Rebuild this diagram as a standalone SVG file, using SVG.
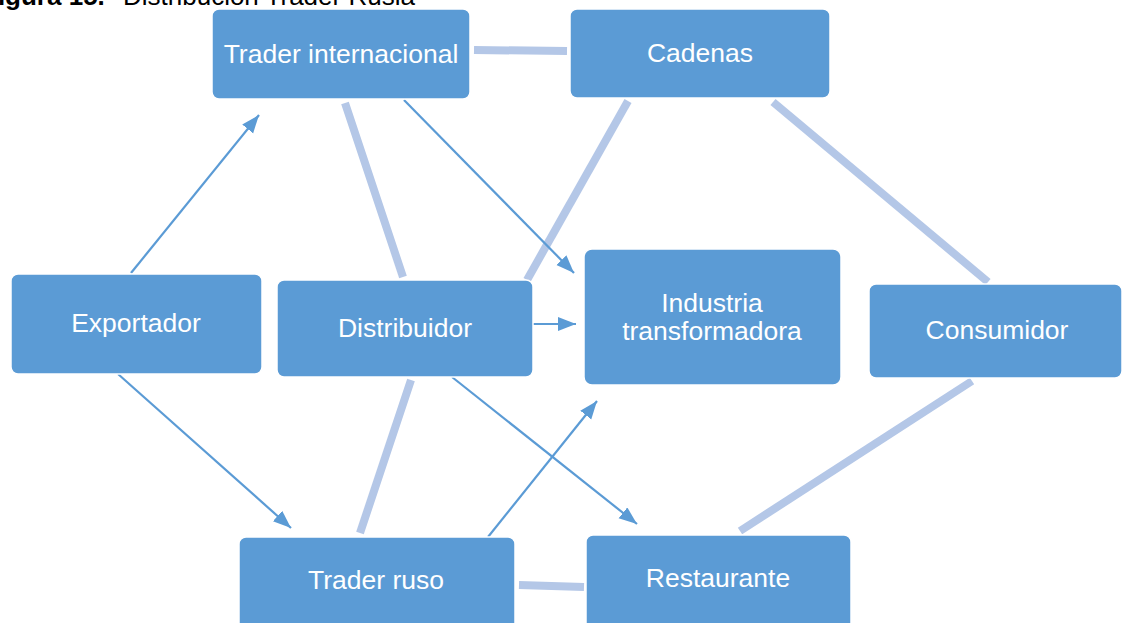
<svg xmlns="http://www.w3.org/2000/svg" width="1123" height="623" viewBox="0 0 1123 623">
<defs>
<style>
.node rect{fill:#5b9bd5;stroke:#ffffff;stroke-width:1.5}
.node text{fill:#ffffff;font-family:"Liberation Sans",Arial,sans-serif;font-size:26.5px;text-anchor:middle}
.link{stroke:#b4c7e7;stroke-width:8;fill:none}
.arrow{stroke:#5b9bd5;stroke-width:2.2;fill:none;marker-end:url(#ah)}
.cap{font-family:"Liberation Sans",Arial,sans-serif;font-size:26px;fill:#000}
</style>
<marker id="ah" markerUnits="userSpaceOnUse" markerWidth="20" markerHeight="16" refX="18" refY="7" orient="auto">
<path d="M0,0 L18,7 L0,14 z" fill="#5b9bd5"/>
</marker>
</defs>
<rect width="1123" height="623" fill="#ffffff"/>
<g id="caption">
<text class="cap" x="-18" y="5" font-weight="bold">Figura 15.</text>
<text class="cap" x="123" y="5">Distribución Trader Rusia</text>
</g>
<g id="connectors">
<line class="link" x1="474" y1="50" x2="567" y2="51"/>
<line class="link" x1="345" y1="103" x2="403" y2="277"/>
<line class="link" x1="628" y1="101" x2="527" y2="280"/>
<line class="link" x1="773" y1="102" x2="988" y2="282"/>
<line class="link" x1="411" y1="380" x2="360" y2="533"/>
<line class="link" x1="972" y1="381" x2="740" y2="531"/>
<line class="link" x1="519" y1="585" x2="584" y2="587"/>
<line class="arrow" x1="131" y1="273" x2="259" y2="115"/>
<line class="arrow" x1="118" y1="374" x2="291" y2="528"/>
<line class="arrow" x1="404" y1="100" x2="574" y2="273"/>
<line class="arrow" x1="533" y1="324" x2="576" y2="324"/>
<line class="arrow" x1="452" y1="377" x2="637" y2="524"/>
<line class="arrow" x1="488" y1="537" x2="597" y2="401"/>
</g>
<g id="trader-internacional" class="node"><rect x="212" y="9" width="258" height="90" rx="7"/><text x="341" y="63">Trader internacional</text></g>
<g id="cadenas" class="node"><rect x="570" y="9" width="260" height="89" rx="7"/><text x="700" y="62">Cadenas</text></g>
<g id="exportador" class="node"><rect x="11" y="274" width="251" height="100" rx="7"/><text x="136" y="332">Exportador</text></g>
<g id="distribuidor" class="node"><rect x="277" y="280" width="256" height="97" rx="7"/><text x="405" y="337">Distribuidor</text></g>
<g id="industria" class="node"><rect x="584" y="249" width="257" height="136" rx="8"/><text x="712" y="312">Industria</text><text x="712" y="340">transformadora</text></g>
<g id="consumidor" class="node"><rect x="869" y="284" width="253" height="94" rx="7"/><text x="997" y="339">Consumidor</text></g>
<g id="trader-ruso" class="node"><rect x="239" y="537" width="276" height="100" rx="7"/><text x="376" y="589">Trader ruso</text></g>
<g id="restaurante" class="node"><rect x="586" y="535" width="265" height="100" rx="7"/><text x="718" y="587">Restaurante</text></g>
</svg>
